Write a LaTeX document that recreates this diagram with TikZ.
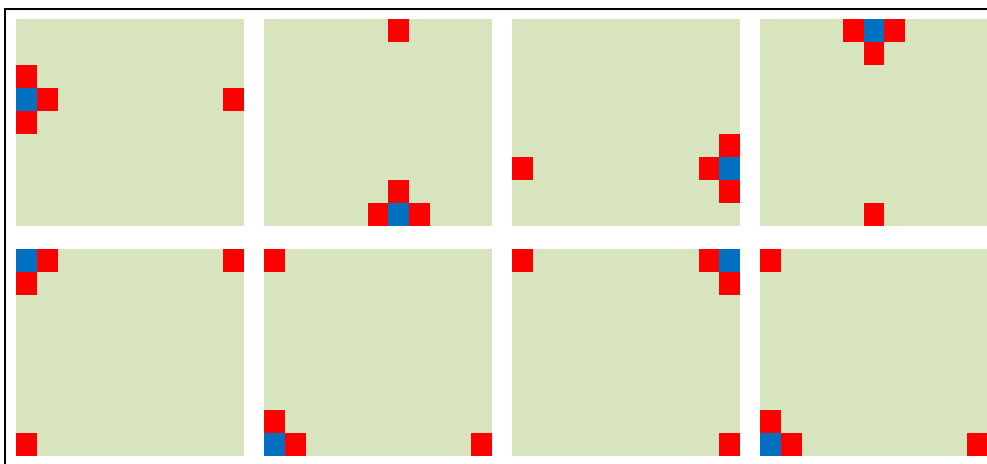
\documentclass[tikz,border=0pt]{standalone}
\definecolor{gridGreen}{HTML}{D7E4BD}
\definecolor{gridRed}{HTML}{FF0000}
\definecolor{gridBlue}{HTML}{0070C0}
\usepackage{xcolor}
\usepackage{tikz}

\begin{document}
\begin{tikzpicture}[x=1pt, y=-1pt,
        panel/.style={fill=gridGreen, inner sep=0pt, anchor=north west,
                      minimum width=228pt, minimum height=207pt},
        cella/.style={inner sep=0pt, anchor=north west,
                      minimum width=20.7pt, minimum height=23pt},
        hit/.style={cella, fill=gridRed},
        agent/.style={cella, fill=gridBlue},
      ]
        \useasboundingbox (0,0) rectangle (987,463);
        % Cornice esterna
        \draw[line width=1.4pt] (5,9) rectangle (1000,480);
        % Riga superiore
        \begin{scope}[shift={(16,19)}]
          \node[panel] (p1) at (0,0) {};
          \foreach \c/\r in {0/2,1/3,0/4,10/3}
            \node[hit] (p1-\c-\r) at (\c*20.7,\r*23) {};
          \node[agent] (a1) at (0,3*23) {};
        \end{scope}
        \begin{scope}[shift={(264,19)}]
          \node[panel] (p2) at (0,0) {};
          \foreach \c/\r in {6/0,6/7,5/8,7/8}
            \node[hit] (p2-\c-\r) at (\c*20.7,\r*23) {};
          \node[agent] (a2) at (6*20.7,8*23) {};
        \end{scope}
        \begin{scope}[shift={(512,19)}]
          \node[panel] (p3) at (0,0) {};
          \foreach \c/\r in {0/6,9/6,10/5,10/7}
            \node[hit] (p3-\c-\r) at (\c*20.7,\r*23) {};
          \node[agent] (a3) at (10*20.7,6*23) {};
        \end{scope}
        \begin{scope}[shift={(760,19)}]
          \node[panel] (p4) at (0,0) {};
          \foreach \c/\r in {4/0,6/0,5/1,5/8}
            \node[hit] (p4-\c-\r) at (\c*20.7,\r*23) {};
          \node[agent] (a4) at (5*20.7,0) {};
        \end{scope}
        % Riga inferiore
        \begin{scope}[shift={(16,249)}]
          \node[panel] (p5) at (0,0) {};
          \foreach \c/\r in {1/0,0/1,10/0,0/8}
            \node[hit] (p5-\c-\r) at (\c*20.7,\r*23) {};
          \node[agent] (a5) at (0,0) {};
        \end{scope}
        \begin{scope}[shift={(264,249)}]
          \node[panel] (p6) at (0,0) {};
          \foreach \c/\r in {0/0,0/7,1/8,10/8}
            \node[hit] (p6-\c-\r) at (\c*20.7,\r*23) {};
          \node[agent] (a6) at (0,8*23) {};
        \end{scope}
        \begin{scope}[shift={(512,249)}]
          \node[panel] (p7) at (0,0) {};
          \foreach \c/\r in {0/0,9/0,10/1,10/8}
            \node[hit] (p7-\c-\r) at (\c*20.7,\r*23) {};
          \node[agent] (a7) at (10*20.7,0) {};
        \end{scope}
        \begin{scope}[shift={(760,249)}]
          \node[panel] (p8) at (0,0) {};
          \foreach \c/\r in {0/0,0/7,1/8,10/8}
            \node[hit] (p8-\c-\r) at (\c*20.7,\r*23) {};
          \node[agent] (a8) at (0,8*23) {};
        \end{scope}
      \end{tikzpicture}
\end{document}
